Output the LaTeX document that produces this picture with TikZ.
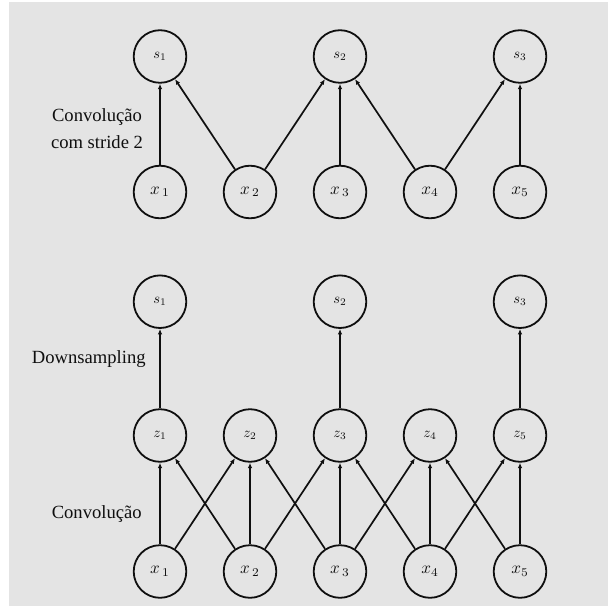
\documentclass[tikz,border=0pt]{standalone}
\usepackage{graphicx}
\usepackage{fontspec}
\setmainfont{Liberation Serif}
\usetikzlibrary{arrows.meta}
\definecolor{bgc}{RGB}{228,228,228}
\definecolor{ink}{RGB}{15,15,15}
\newcommand{\biglab}[1]{\scalebox{1.7}{$#1$}}
\newcommand{\smlab}[1]{\scalebox{1.45}{$#1$}}
\tikzset{
  unit/.style={circle, draw=ink, line width=1.8pt, minimum size=52.6pt, inner sep=0pt, text=ink},
  conn/.style={draw=ink, line width=1.7pt, -{Latex[length=5.5pt,width=4.5pt]}},
  caption/.style={font=\fontsize{18.6}{26.7}\selectfont, inner sep=0pt, text=ink}
}
\begin{document}
\begin{tikzpicture}[x=1pt,y=-1pt]
\useasboundingbox (0,0) rectangle (608,609);
\fill[bgc] (9,2) rectangle (608,606);
% top section
\node[unit] (ts1) at (160,56.5) {\smlab{s_1}};
\node[unit] (ts2) at (340,56.5) {\smlab{s_2}};
\node[unit] (ts3) at (520,56.5) {\smlab{s_3}};
\node[unit] (tx1) at (160,192) {\biglab{x_{\,1}}};
\node[unit] (tx2) at (250,192) {\biglab{x_{\,2}}};
\node[unit] (tx3) at (340,192) {\biglab{x_{\,3}}};
\node[unit] (tx4) at (430,192) {\biglab{x_4}};
\node[unit] (tx5) at (520,192) {\biglab{x_5}};
\draw[conn] (tx1) -- (ts1);
\draw[conn] (tx2) -- (ts1);
\draw[conn] (tx2) -- (ts2);
\draw[conn] (tx3) -- (ts2);
\draw[conn] (tx4) -- (ts2);
\draw[conn] (tx4) -- (ts3);
\draw[conn] (tx5) -- (ts3);
\node[caption, align=center] (lab1) at (97,128.7) {Convolução\\com stride 2};
% bottom section
\node[unit] (bs1) at (160,301.7) {\smlab{s_1}};
\node[unit] (bs2) at (340,301.7) {\smlab{s_2}};
\node[unit] (bs3) at (520,301.7) {\smlab{s_3}};
\node[unit] (z1) at (160,435.5) {\smlab{z_1}};
\node[unit] (z2) at (250,435.5) {\smlab{z_2}};
\node[unit] (z3) at (340,435.5) {\smlab{z_3}};
\node[unit] (z4) at (430,435.5) {\smlab{z_4}};
\node[unit] (z5) at (520,435.5) {\smlab{z_5}};
\node[unit] (bx1) at (160,571.5) {\biglab{x_{\,1}}};
\node[unit] (bx2) at (250,571.5) {\biglab{x_{\,2}}};
\node[unit] (bx3) at (340,571.5) {\biglab{x_{\,3}}};
\node[unit] (bx4) at (430,571.5) {\biglab{x_4}};
\node[unit] (bx5) at (520,571.5) {\biglab{x_5}};
\draw[conn] (z1) -- (bs1);
\draw[conn] (z3) -- (bs2);
\draw[conn] (z5) -- (bs3);
\draw[conn] (bx1) -- (z1);
\draw[conn] (bx2) -- (z1);
\draw[conn] (bx1) -- (z2);
\draw[conn] (bx2) -- (z2);
\draw[conn] (bx3) -- (z2);
\draw[conn] (bx2) -- (z3);
\draw[conn] (bx3) -- (z3);
\draw[conn] (bx4) -- (z3);
\draw[conn] (bx3) -- (z4);
\draw[conn] (bx4) -- (z4);
\draw[conn] (bx5) -- (z4);
\draw[conn] (bx4) -- (z5);
\draw[conn] (bx5) -- (z5);
\node[caption, anchor=base] (lab2) at (88.8,363) {Downsampling};
\node[caption, anchor=base] (lab3) at (96.7,518.3) {Convolução};
\end{tikzpicture}
\end{document}
